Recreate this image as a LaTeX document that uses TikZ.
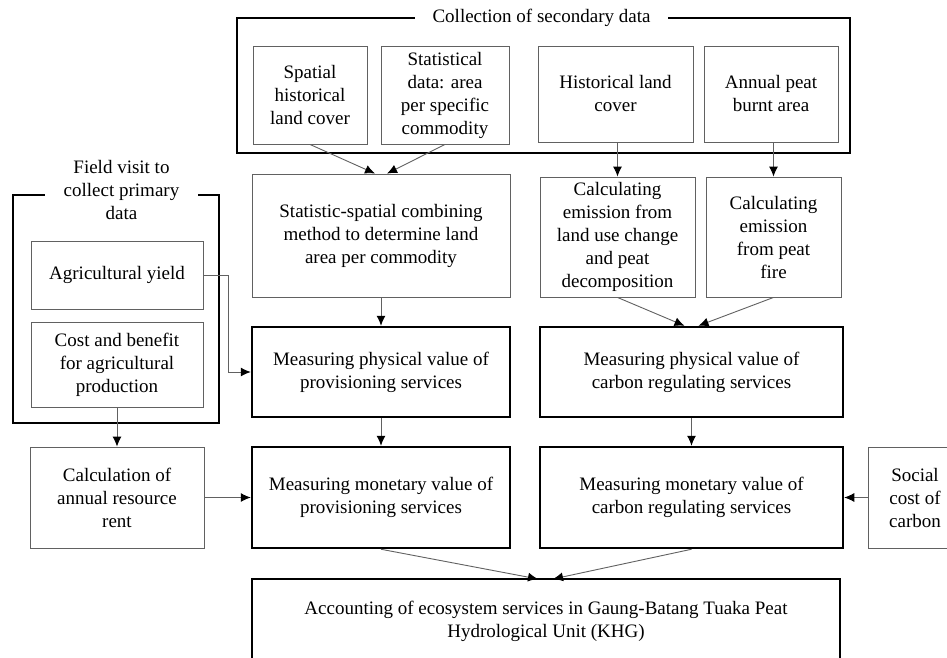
\documentclass[tikz,border=0pt]{standalone}
\usepackage{fontspec}
\setmainfont{Liberation Serif}
\usetikzlibrary{arrows.meta}
\newcommand{\diagfont}{\fontsize{19}{23}\selectfont}
\begin{document}
\begin{tikzpicture}[x=1pt,y=-1pt,
  thinbox/.style={draw=black!62, line width=0.9pt, align=center, inner sep=0pt, font=\diagfont},
  thickbox/.style={draw=black, line width=2.5pt, align=center, inner sep=0pt, font=\diagfont},
  frame/.style={draw=black, line width=2.2pt, inner sep=0pt},
  frametitle/.style={fill=white, align=center, inner sep=0pt, font=\diagfont},
  conn/.style={draw=black!62, line width=0.9pt, -{Latex[length=10pt,width=9pt,color=black]}}
]
\useasboundingbox (0,0) rectangle (947,658);
\fill[white] (0,0) rectangle (947,658);

% secondary data frame
\node[frame, minimum width=613pt, minimum height=135pt] (secframe) at (543.5,85.5) {};
\node[frametitle, minimum width=253pt, minimum height=24pt] (sectitle) at (541.5,18) {Collection of secondary data};

\node[thinbox, minimum width=114pt, minimum height=98pt] (spatial) at (310,95) {Spatial\\historical\\land cover};
\node[thinbox, minimum width=128pt, minimum height=98pt] (statdata) at (445,95) {Statistical\\data: area\\per specific\\commodity};
\node[thinbox, minimum width=155pt, minimum height=96pt] (histlc) at (615.5,94) {Historical land\\cover};
\node[thinbox, minimum width=134pt, minimum height=96pt] (peat) at (771,94) {Annual peat\\burnt area};

% second row
\node[thinbox, minimum width=258pt, minimum height=123pt] (statspatial) at (381,235.5) {Statistic-spatial combining\\method to determine land\\area per commodity};
\node[thinbox, minimum width=155pt, minimum height=120pt] (luc) at (617.5,237) {Calculating\\emission from\\land use change\\and peat\\decomposition};
\node[thinbox, minimum width=135pt, minimum height=120pt] (fire) at (773.5,237) {Calculating\\emission\\from peat\\fire};

% field frame
\node[frame, minimum width=206pt, minimum height=228pt] (fieldframe) at (116,309) {};
\node[frametitle, minimum width=153pt] (fieldtitle) at (121.5,190) {Field visit to\\collect primary\\data};
\node[thinbox, minimum width=172pt, minimum height=68pt] (agri) at (117,275) {Agricultural yield};
\node[thinbox, minimum width=172pt, minimum height=85pt] (cost) at (117,364.5) {Cost and benefit\\for agricultural\\production};

% physical
\node[thickbox, minimum width=258pt, minimum height=90pt] (physprov) at (381,372) {Measuring physical value of\\provisioning services};
\node[thickbox, minimum width=303pt, minimum height=90pt] (physcarb) at (691.5,372) {Measuring physical value of\\carbon regulating services};

% monetary
\node[thinbox, minimum width=174pt, minimum height=101pt] (rent) at (117,497.5) {Calculation of\\annual resource\\rent};
\node[thickbox, minimum width=258pt, minimum height=101pt] (monprov) at (381,497.5) {Measuring monetary value of\\provisioning services};
\node[thickbox, minimum width=303pt, minimum height=101pt] (moncarb) at (691.5,497.5) {Measuring monetary value of\\carbon regulating services};
\node[thinbox, minimum width=94pt, minimum height=101pt] (social) at (915,497.5) {Social\\cost of\\carbon};

% accounting
\node[thickbox, minimum width=588pt, minimum height=84pt] (account) at (546,621) {Accounting of ecosystem services in Gaung-Batang Tuaka Peat\\Hydrological Unit (KHG)};

% connectors
\coordinate (sa) at ([xshift=-6pt]statspatial.north);
\coordinate (sb) at ([xshift=6pt]statspatial.north);
\draw[conn] (spatial.south) -- (sa);
\draw[conn] (statdata.south) -- (sb);
\draw[conn] (luc.north |- histlc.south) -- (luc.north);
\draw[conn] (fire.north |- peat.south) -- (fire.north);
\coordinate (ca) at ([xshift=-7pt]physcarb.north);
\coordinate (cb) at ([xshift=7pt]physcarb.north);
\draw[conn] (luc.south) -- (ca);
\draw[conn] (fire.south) -- (cb);
\draw[conn] (statspatial.south) -- (physprov.north);
\draw[conn] (physprov.south) -- (monprov.north);
\draw[conn] (physcarb.south) -- (moncarb.north);
\coordinate (bend) at (228,275);
\draw[conn] (agri.east) -- (bend) |- (physprov.west);
\draw[conn] (cost.south) -- (rent.north);
\draw[conn] (rent.east) -- (monprov.west);
\draw[conn] (social.west) -- (moncarb.east);
\coordinate (aa) at (538,579);
\coordinate (ab) at (553,579);
\draw[conn] (monprov.south) -- (aa);
\draw[conn] (moncarb.south) -- (ab);
\end{tikzpicture}
\end{document}
